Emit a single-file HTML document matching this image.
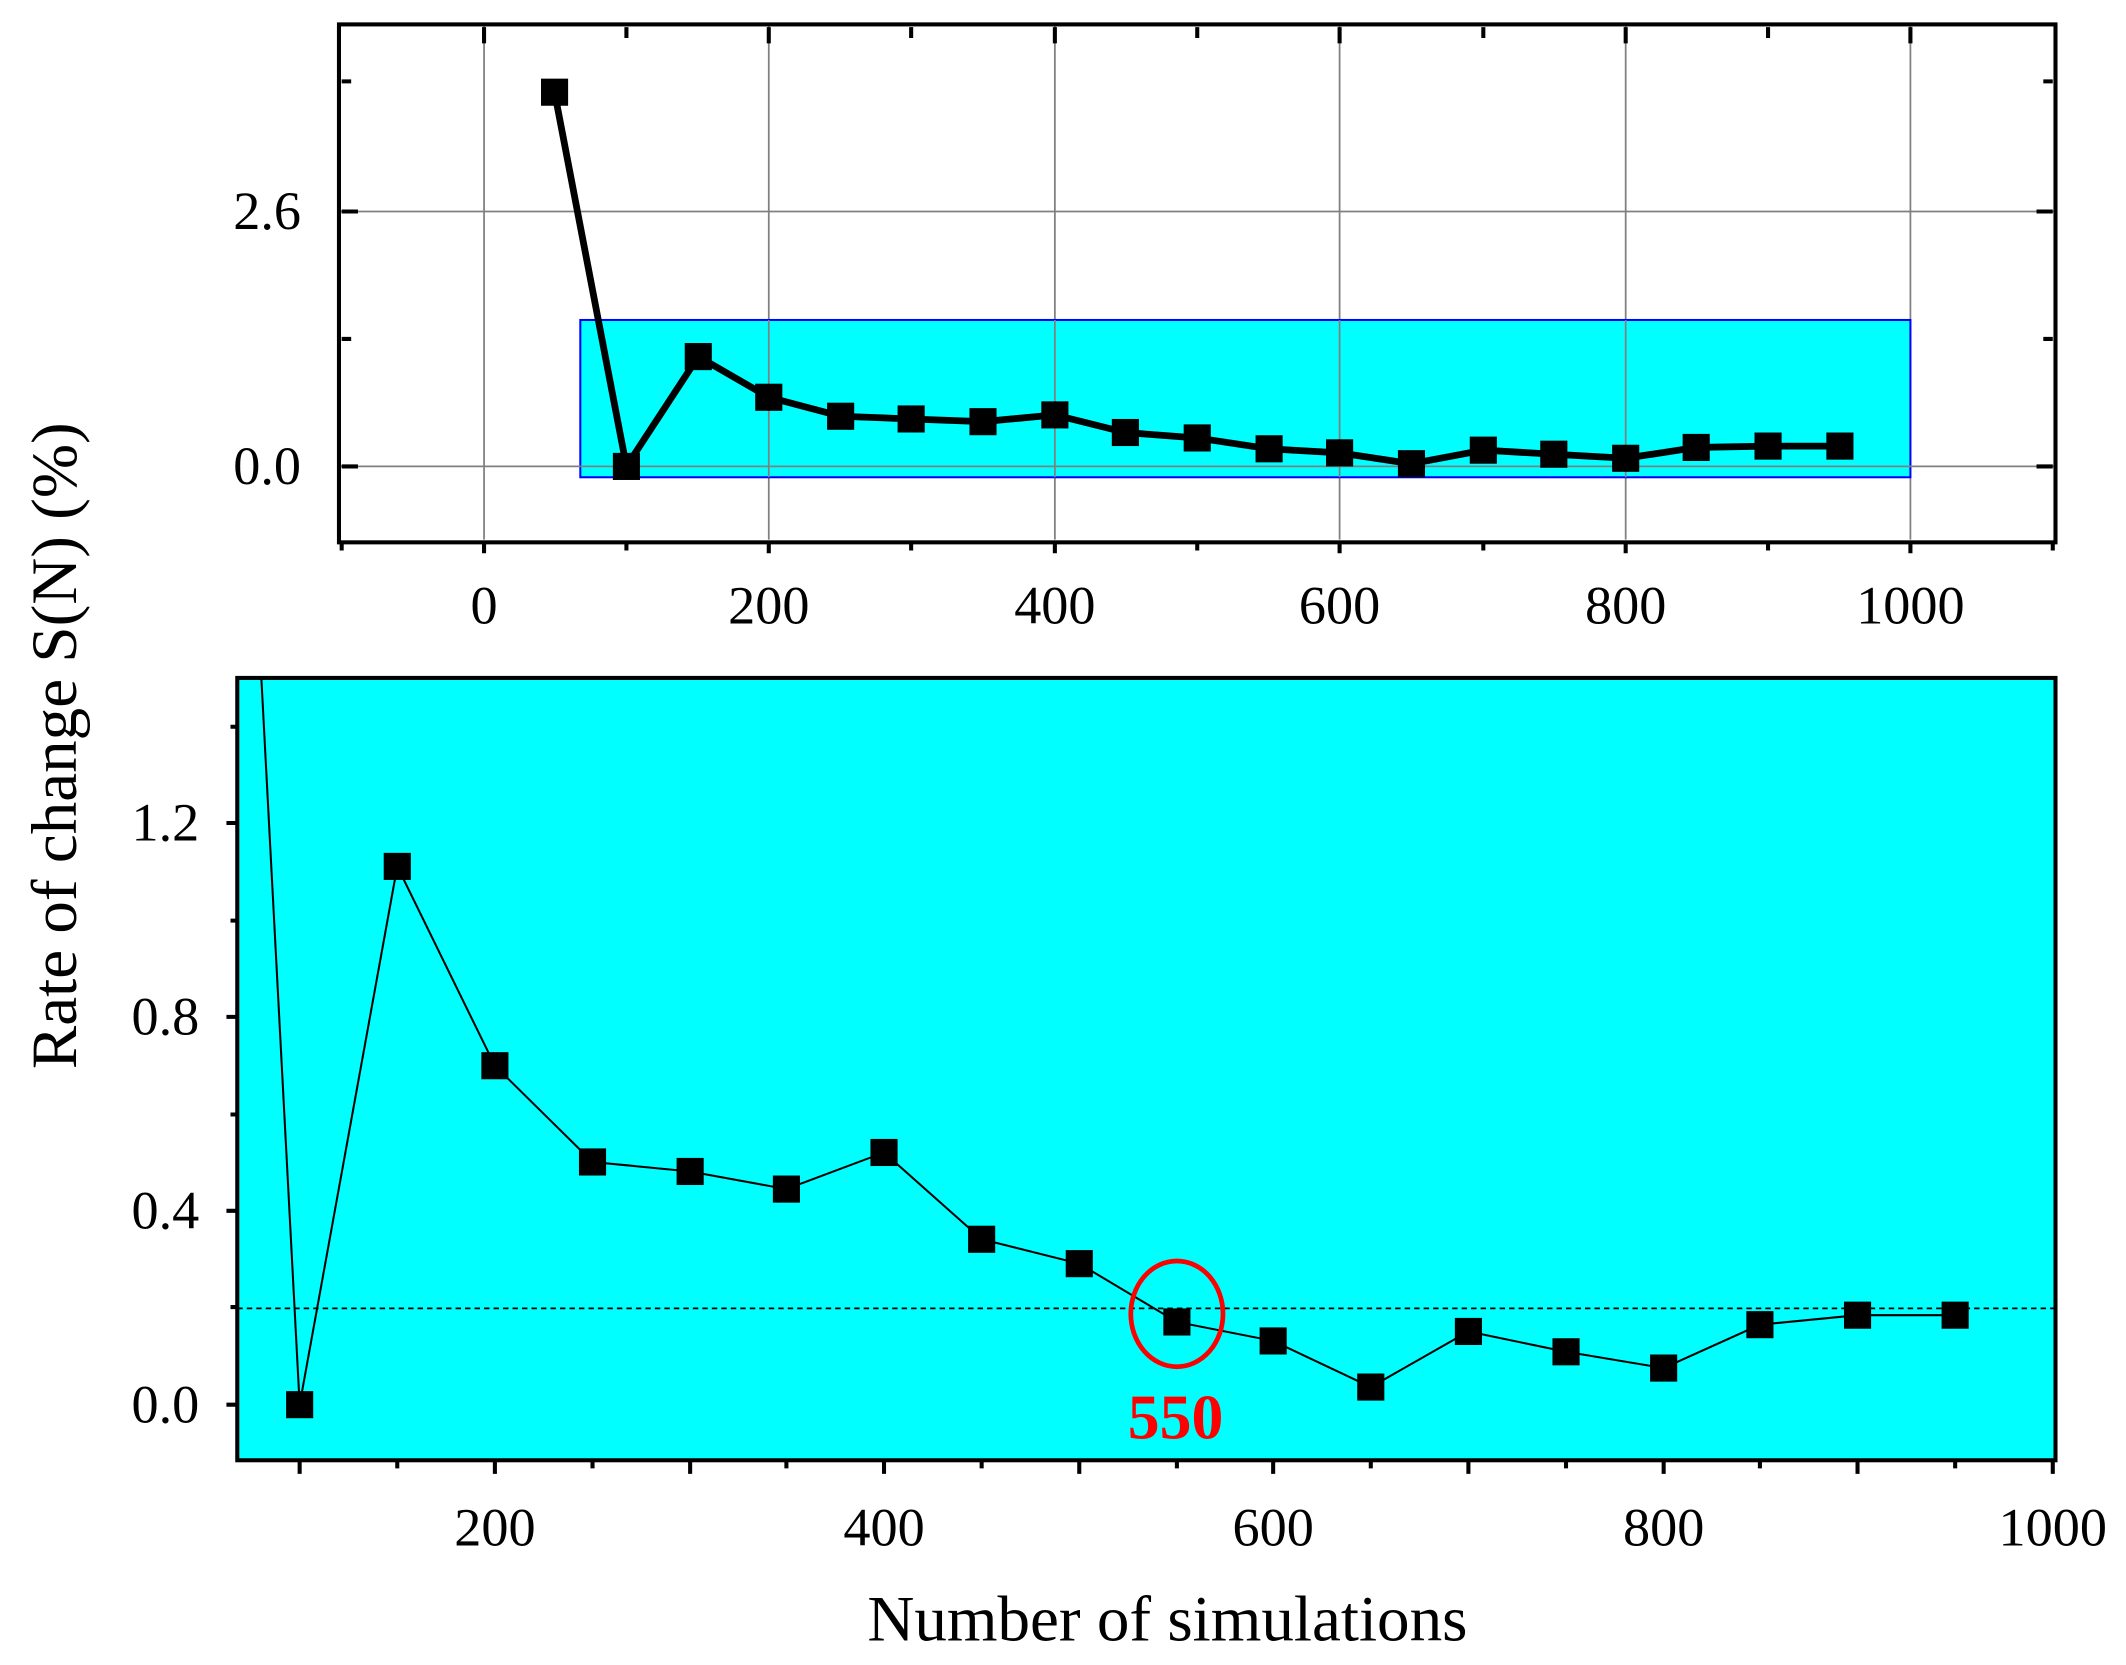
<!DOCTYPE html>
<html><head><style>html,body{margin:0;padding:0;background:#fff}svg{display:block}</style></head>
<body>
<svg width="2126" height="1665" viewBox="0 0 1568 1228" xmlns="http://www.w3.org/2000/svg" font-family="Liberation Serif, serif">
<defs><clipPath id="cb"><rect x="175" y="500" width="1341" height="577"/></clipPath></defs>
<g stroke="#808080" stroke-width="1.3">
<line x1="357" y1="18" x2="357" y2="398"/><line x1="567" y1="18" x2="567" y2="398"/><line x1="778" y1="18" x2="778" y2="398"/><line x1="988" y1="18" x2="988" y2="398"/><line x1="1199" y1="18" x2="1199" y2="398"/><line x1="1409" y1="18" x2="1409" y2="398"/>
<line x1="250" y1="156" x2="1516" y2="156"/>
</g>
<rect x="428" y="236" width="981" height="116" fill="#00ffff" stroke="#0000ff" stroke-width="1.5"/>
<g stroke="#808080" stroke-width="1.3"><line x1="428" y1="344" x2="1516" y2="344"/><line x1="250" y1="344" x2="428" y2="344"/>
<line x1="567" y1="236" x2="567" y2="352"/><line x1="778" y1="236" x2="778" y2="352"/><line x1="988" y1="236" x2="988" y2="352"/><line x1="1199" y1="236" x2="1199" y2="352"/></g>
<rect x="250" y="18" width="1266" height="382" fill="none" stroke="#000" stroke-width="3"/>
<g stroke="#000" stroke-width="3">
<path d="M252 344h12M252 156h12M252 250h7M252 60h7M1514 344h-12M1514 156h-12M1514 250h-7M1514 60h-7"/>
<path d="M357 20v12M567 20v12M778 20v12M988 20v12M1199 20v12M1409 20v12M462 20v8M672 20v8M883 20v8M1094 20v8M1304 20v8"/>
<path d="M252 400v6M357 400v8M462 400v6M567 400v8M672 400v6M778 400v8M883 400v6M988 400v8M1094 400v6M1199 400v8M1304 400v6M1409 400v8M1514 400v6"/>
</g>
<polyline fill="none" stroke="#000" stroke-width="5" stroke-linejoin="round" points="409,68 462,344 515,263 567,293 620,307 672,309 725,311 778,306 830,319 883,323 936,331 988,334 1041,342 1094,332 1146,335 1199,338 1251,330 1304,329 1357,329"/>
<g fill="#000">
<rect x="399" y="58" width="20" height="20"/><rect x="452" y="334" width="20" height="20"/><rect x="505" y="253" width="20" height="20"/><rect x="557" y="283" width="20" height="20"/><rect x="610" y="297" width="20" height="20"/><rect x="662" y="299" width="20" height="20"/><rect x="715" y="301" width="20" height="20"/><rect x="768" y="296" width="20" height="20"/><rect x="820" y="309" width="20" height="20"/><rect x="873" y="313" width="20" height="20"/><rect x="926" y="321" width="20" height="20"/><rect x="978" y="324" width="20" height="20"/><rect x="1031" y="332" width="20" height="20"/><rect x="1084" y="322" width="20" height="20"/><rect x="1136" y="325" width="20" height="20"/><rect x="1189" y="328" width="20" height="20"/><rect x="1241" y="320" width="20" height="20"/><rect x="1294" y="319" width="20" height="20"/><rect x="1347" y="319" width="20" height="20"/>
</g>
<g font-size="40" text-anchor="middle">
<text x="357" y="460">0</text><text x="567" y="460">200</text><text x="778" y="460">400</text><text x="988" y="460">600</text><text x="1199" y="460">800</text><text x="1409" y="460">1000</text>
</g>
<g font-size="40" text-anchor="end"><text x="222" y="169">2.6</text><text x="222" y="357">0.0</text></g>
<rect x="175" y="500" width="1341" height="577" fill="#00ffff"/>
<line x1="175" y1="965" x2="1516" y2="965" stroke="#000" stroke-width="1.3" stroke-dasharray="4,3"/>
<g clip-path="url(#cb)">
<polyline fill="none" stroke="#000" stroke-width="1.5" points="149,-330 221,1036 293,639 365,786 437,857 509,864 580,877 652,850 724,914 796,932 868,975 939,989 1011,1023 1083,982 1155,997 1227,1009 1298,977 1370,970 1442,970"/>
</g>
<g fill="#000">
<rect x="211" y="1026" width="20" height="20"/><rect x="283" y="629" width="20" height="20"/><rect x="355" y="776" width="20" height="20"/><rect x="427" y="847" width="20" height="20"/><rect x="499" y="854" width="20" height="20"/><rect x="570" y="867" width="20" height="20"/><rect x="642" y="840" width="20" height="20"/><rect x="714" y="904" width="20" height="20"/><rect x="786" y="922" width="20" height="20"/><rect x="858" y="965" width="20" height="20"/><rect x="929" y="979" width="20" height="20"/><rect x="1001" y="1013" width="20" height="20"/><rect x="1073" y="972" width="20" height="20"/><rect x="1145" y="987" width="20" height="20"/><rect x="1217" y="999" width="20" height="20"/><rect x="1288" y="967" width="20" height="20"/><rect x="1360" y="960" width="20" height="20"/><rect x="1432" y="960" width="20" height="20"/>
</g>
<ellipse cx="868" cy="969" rx="34" ry="39" fill="none" stroke="#ff0000" stroke-width="3.5"/>
<text x="867" y="1061" font-size="47" font-weight="bold" fill="#ff0000" text-anchor="middle">550</text>
<rect x="175" y="500" width="1341" height="577" fill="none" stroke="#000" stroke-width="3"/>
<g stroke="#000" stroke-width="3">
<path d="M175 1036h-8M175 893h-8M175 750h-8M175 607h-8M175 964h-5M175 822h-5M175 679h-5M175 536h-5"/>
<path d="M221 1077v10M293 1077v6M365 1077v10M437 1077v6M509 1077v10M580 1077v6M652 1077v10M724 1077v6M796 1077v10M868 1077v6M939 1077v10M1011 1077v6M1083 1077v10M1155 1077v6M1227 1077v10M1298 1077v6M1370 1077v10M1442 1077v6M1514 1077v10"/>
</g>
<g font-size="40" text-anchor="middle">
<text x="365" y="1140">200</text><text x="652" y="1140">400</text><text x="939" y="1140">600</text><text x="1227" y="1140">800</text><text x="1514" y="1140">1000</text>
</g>
<g font-size="40" text-anchor="end"><text x="147" y="1049">0.0</text><text x="147" y="906">0.4</text><text x="147" y="763">0.8</text><text x="147" y="620">1.2</text></g>
<text x="861" y="1210" font-size="48" text-anchor="middle">Number of simulations</text>
<text transform="translate(56,550) rotate(-90)" font-size="48" text-anchor="middle">Rate of change S(N) (%)</text>
</svg>
</body></html>
